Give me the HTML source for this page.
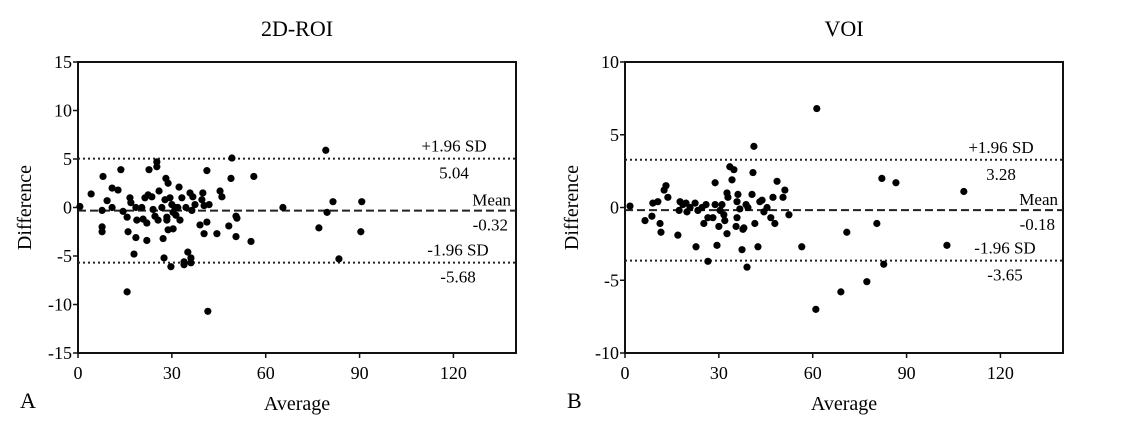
<!DOCTYPE html>
<html><head><meta charset="utf-8"><style>
html,body{margin:0;padding:0;background:#fff}
svg{display:block;font-family:"Liberation Serif",serif}
</style></head><body>
<svg id="chart" width="1123" height="431" viewBox="0 0 1123 431" xmlns="http://www.w3.org/2000/svg"></svg>
<script>
const xTicks = [0, 30, 60, 90, 120];
const leftYTicks = [15, 10, 5, 0, -5, -10, -15];
const rightYTicks = [10, 5, 0, -5, -10];
const leftStats = [5.04, -0.32, -5.68];
const rightStats = [3.28, -0.18, -3.65];
const leftX = [0.6,4.2,8.0,7.7,7.7,7.7,9.3,10.9,10.9,12.8,13.7,14.4,15.7,16.0,15.7,16.6,16.9,17.9,18.5,18.5,18.8,20.4,20.8,21.4,22.0,22.0,22.7,22.4,23.6,24.0,24.6,25.2,25.2,25.6,25.9,26.8,27.2,27.5,27.8,28.1,28.4,28.4,28.8,28.8,29.4,29.7,30.0,30.4,30.4,31.0,31.3,31.9,32.3,32.6,33.2,33.9,33.9,34.5,35.1,35.8,36.1,36.1,36.4,36.7,37.4,39.0,39.6,39.9,40.3,40.3,41.2,41.2,41.9,41.5,44.4,45.4,46.0,48.2,48.9,49.2,50.5,50.8,50.5,55.3,56.2,65.5,79.2,81.5,79.6,77.0,83.4,90.7,90.4];
const leftY = [0.1,1.4,3.2,-0.3,-2.0,-2.5,0.7,2.0,0.0,1.8,3.9,-0.4,-1.0,-2.5,-8.7,1.0,0.5,-4.8,0.0,-3.1,-1.3,0.0,-1.2,1.0,-1.6,-3.4,3.9,1.3,1.1,-0.2,-0.9,4.7,4.2,-1.3,1.7,0.0,-3.2,-5.2,0.8,3.0,-1.0,-1.3,2.5,-2.3,1.0,-6.1,0.3,-0.5,-2.2,0.0,-0.8,0.0,2.1,-1.3,1.0,-5.6,-5.9,0.0,-4.6,1.5,-5.2,-5.7,-0.3,1.1,0.3,-1.8,0.8,1.5,-2.7,0.2,3.8,-1.5,0.3,-10.7,-2.7,1.7,1.1,-1.9,3.0,5.1,-0.9,-1.1,-3.0,-3.5,3.2,0.0,5.9,0.6,-0.5,-2.1,-5.3,0.6,-2.5];
const rightX = [1.6,6.4,8.6,8.9,10.5,11.2,11.5,12.5,13.1,13.7,16.9,17.6,17.3,18.5,19.5,19.8,20.8,22.4,22.7,23.3,24.6,25.2,25.9,26.5,26.5,28.1,28.8,28.8,29.4,30.0,30.4,31.0,31.6,31.9,32.6,32.6,32.9,33.5,34.2,34.8,35.5,35.8,35.8,36.1,36.7,37.4,37.7,38.0,38.7,39.3,40.6,40.9,41.2,39.0,41.5,42.5,43.1,43.8,44.4,45.4,46.6,47.9,47.3,48.6,50.5,51.1,52.4,56.5,61.3,61.0,70.9,80.5,82.1,86.6,82.7,77.3,69.0,102.9,108.3];
const rightY = [0.1,-0.9,-0.6,0.3,0.4,-1.1,-1.7,1.2,1.5,0.7,-1.9,0.4,-0.2,0.2,0.3,-0.3,0.0,0.3,-2.7,-0.2,0.0,-1.1,0.2,-3.7,-0.7,-0.7,1.7,0.2,-2.6,-1.3,-0.2,0.2,-0.5,-0.9,1.0,-1.8,0.7,2.8,1.9,2.6,-1.3,-0.7,0.4,0.9,-0.1,-2.9,-1.5,-1.4,0.2,0.0,0.9,2.4,4.2,-4.1,-1.1,-2.7,0.4,0.5,-0.3,0.0,-0.7,-1.1,0.7,1.8,0.7,1.2,-0.5,-2.7,6.8,-7.0,-1.7,-1.1,2.0,1.7,-3.9,-5.1,-5.8,-2.6,1.1];

const NS = "http://www.w3.org/2000/svg";
const svg = document.getElementById('chart');
function mk(tag, attrs, parent, text) {
  const e = document.createElementNS(NS, tag);
  for (const k in attrs) e.setAttribute(k, attrs[k]);
  if (text !== undefined) e.textContent = text;
  (parent || svg).appendChild(e);
  return e;
}

function panel(opts) {
  const g = mk('g', {});
  
  
  const L = opts.left, R = opts.left + 438, T = 62, B = 353;
  const xs = v => L + v * (438 / 140);
  const ys = v => T + (opts.ymax - v) * (B - T) / (opts.ymax - opts.ymin);

  const title = mk('text', {x: (L + R) / 2, y: 36, 'text-anchor': 'middle', 'font-size': 22}, g, opts.title);
  
  

  const frame = mk('rect', {x: L, y: T, width: R - L, height: B - T, fill: 'none', stroke: '#111', 'stroke-width': 2}, g);
  
  

  for (const t of opts.yTicks) {
    const y = ys(t);
    const tk = mk('line', {x1: L - 5, x2: L, y1: y, y2: y, stroke: '#111', 'stroke-width': 1.5}, g);
    
    
    const lb = mk('text', {x: L - 6, y: y + 6, 'text-anchor': 'end', 'font-size': 18}, g, String(t));
    
    
  }
  for (const t of xTicks) {
    const x = xs(t);
    const tk = mk('line', {x1: x, x2: x, y1: B, y2: B + 5, stroke: '#111', 'stroke-width': 1.5}, g);
    
    
    const lb = mk('text', {x: x, y: B + 26, 'text-anchor': 'middle', 'font-size': 18}, g, String(t));
    
    
  }
  const xt = mk('text', {x: (L + R) / 2, y: 410, 'text-anchor': 'middle', 'font-size': 20}, g, 'Average');
  
  
  const yx = L - 47, yy = (T + B) / 2;
  const yt = mk('text', {x: yx, y: yy, 'text-anchor': 'middle', 'font-size': 20, transform: `rotate(-90 ${yx} ${yy})`}, g, 'Difference');
  
  
  const pl = mk('text', {x: L - 58, y: 408, 'font-size': 22}, g, opts.letter);
  
  

  const s = opts.stats;
  const lineDefs = [
    {v: s[0], dash: '2,3', name: 'upper-limit-line', lab: '+1.96 SD', cx: R - 62},
    {v: s[1], dash: '8,4', name: 'mean-line', lab: 'Mean', cx: null},
    {v: s[2], dash: '2,3', name: 'lower-limit-line', lab: '-1.96 SD', cx: R - 58}
  ];
  for (const d of lineDefs) {
    const y = ys(d.v);
    const ln = mk('line', {x1: L, x2: R, y1: y, y2: y, stroke: '#222', 'stroke-width': 2, 'stroke-dasharray': d.dash}, g);
    
    
    let t1, t2;
    if (d.cx === null) {
      t1 = mk('text', {x: R - 5, y: y - 5, 'text-anchor': 'end', 'font-size': 17}, g, d.lab);
      t2 = mk('text', {x: R - 8, y: y + 20, 'text-anchor': 'end', 'font-size': 17}, g, d.v.toFixed(2));
    } else {
      t1 = mk('text', {x: d.cx, y: y - 7, 'text-anchor': 'middle', 'font-size': 17}, g, d.lab);
      t2 = mk('text', {x: d.cx, y: y + 20, 'text-anchor': 'middle', 'font-size': 17}, g, d.v.toFixed(2));
    }
    
    
    
    
  }
  for (let i = 0; i < opts.xs.length; i++) {
    const c = mk('circle', {cx: xs(opts.xs[i]), cy: ys(opts.ys[i]), r: 3.6, fill: '#000'}, g);
    
    
  }
}

panel({name: 'panel-a-2d-roi', title: '2D-ROI', letter: 'A', left: 78, ymin: -15, ymax: 15, yTicks: leftYTicks, stats: leftStats, xs: leftX, ys: leftY});
panel({name: 'panel-b-voi', title: 'VOI', letter: 'B', left: 625, ymin: -10, ymax: 10, yTicks: rightYTicks, stats: rightStats, xs: rightX, ys: rightY});
</script>
</body></html>
